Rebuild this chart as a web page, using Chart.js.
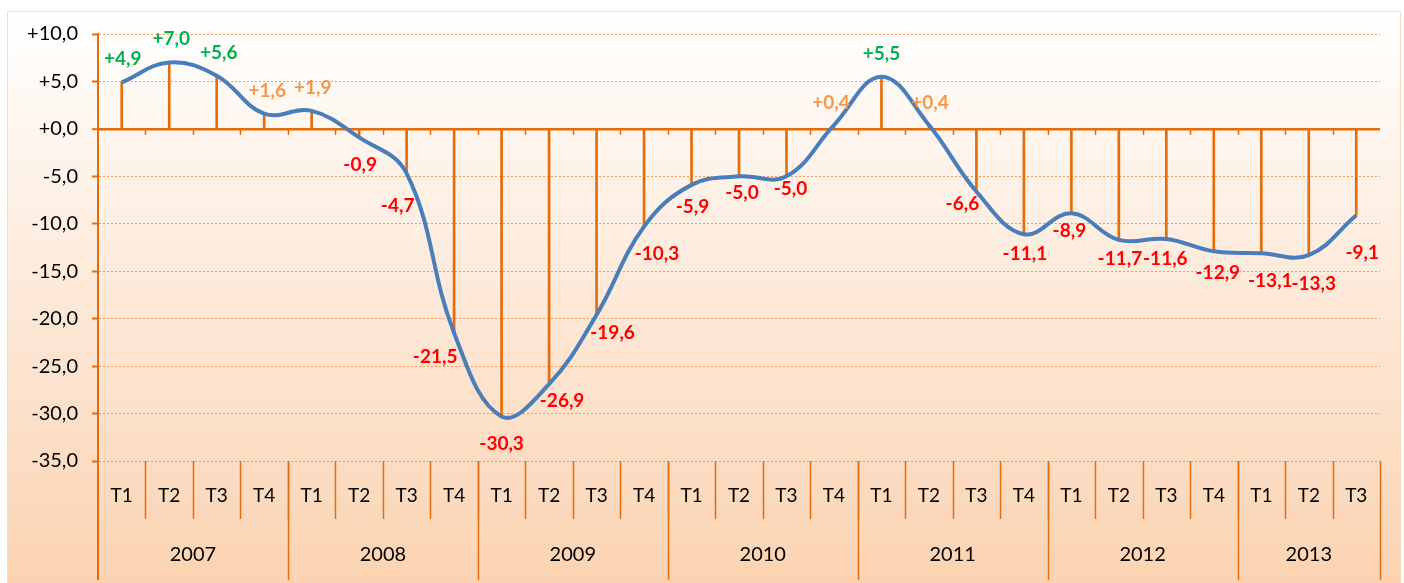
<!DOCTYPE html>
<html>
<head>
<meta charset="utf-8">
<script src="https://cdn.jsdelivr.net/npm/chart.js@4.4.0/dist/chart.umd.min.js"></script>
<style>
  html, body { margin: 0; padding: 0; background: #fff; }
  #wrap { width: 1404px; height: 583px; }
</style>
</head>
<body>
<div id="wrap"><canvas id="chartTrim" width="1404" height="583"></canvas></div>
<script>
// data
var years = ['2007', '2008', '2009', '2010', '2011', '2012', '2013'];
var quartersPerYear = [4, 4, 4, 4, 4, 4, 3];
var quarters = ['T1','T2','T3','T4', 'T1','T2','T3','T4', 'T1','T2','T3','T4',
                'T1','T2','T3','T4', 'T1','T2','T3','T4', 'T1','T2','T3','T4',
                'T1','T2','T3'];
var values = [4.9, 7.0, 5.6, 1.6,
              1.9, -0.9, -4.7, -21.5,
              -30.3, -26.9, -19.6, -10.3,
              -5.9, -5.0, -5.0, 0.4,
              5.5, 0.4, -6.6, -11.1,
              -8.9, -11.7, -11.6, -12.9,
              -13.1, -13.3, -9.1];
var valueLabels = ['+4,9','+7,0','+5,6','+1,6',
                   '+1,9','-0,9','-4,7','-21,5',
                   '-30,3','-26,9','-19,6','-10,3',
                   '-5,9','-5,0','-5,0','+0,4',
                   '+5,5','+0,4','-6,6','-11,1',
                   '-8,9','-11,7','-11,6','-12,9',
                   '-13,1','-13,3','-9,1'];
var yTickLabels = ['+10,0','+5,0','+0,0','-5,0','-10,0','-15,0','-20,0','-25,0','-30,0','-35,0'];

// where each label sits relative to its point (px)
var labelOffsets = [[1,-24],[2,-24],[2,-23],[3,-23],
                    [1,-23],[1,27],[-9,32],[-19,24],
                    [0,27],[13,17],[16,18],[13,27],
                    [1,22],[3,17],[4,13],[-3,-22],
                    [0,-23],[1,-22],[-14,12],[1,20],
                    [-2,18],[1,19],[-1,20],[4,22],
                    [9,28],[5,29],[6,38]];

var ORANGE = '#e46c0a';
var FONT = 'Lato, "Open Sans", sans-serif';

function labelColor(v) {
  if (v >= 2) return '#00b050';
  if (v >= 0) return '#f79646';
  return '#ff0000';
}

var framePlugin = {
  id: 'frame',
  beforeDraw: function(chart) {
    var ctx = chart.ctx;
    ctx.save();
    var g = ctx.createLinearGradient(0, 11, 0, 583);
    g.addColorStop(0, '#ffffff');
    g.addColorStop(1, '#fbd3b2');
    ctx.fillStyle = g;
    ctx.fillRect(7, 11, 1393, 572);
    ctx.strokeStyle = '#fbd9bd';
    ctx.lineWidth = 1;
    ctx.strokeRect(7.5, 11.5, 1393, 575);
    ctx.restore();
  },
  afterDatasetsDraw: function(chart) {
    var ctx = chart.ctx;
    var xs = chart.scales.x, ys = chart.scales.y;
    var area = chart.chartArea;
    var step = xs.getPixelForValue(1) - xs.getPixelForValue(0);
    var y0 = ys.getPixelForValue(0);
    var top = area.bottom, mid = top + 58, bot = top + 119;
    ctx.save();
    ctx.strokeStyle = ORANGE;
    // small ticks on the zero line
    ctx.lineWidth = 1.5;
    for (var i = 1; i < quarters.length; i++) {
      var xb = Math.round(xs.getPixelForValue(i) - step / 2) + 0.5;
      ctx.beginPath(); ctx.moveTo(xb, y0); ctx.lineTo(xb, y0 + 6); ctx.stroke();
    }
    // quarter separators
    for (i = 1; i < quarters.length; i++) {
      var xq = Math.round(xs.getPixelForValue(i) - step / 2) + 0.5;
      ctx.beginPath(); ctx.moveTo(xq, top); ctx.lineTo(xq, mid); ctx.stroke();
    }
    // left axis down to the bottom
    ctx.lineWidth = 2;
    ctx.beginPath(); ctx.moveTo(area.left, area.top); ctx.lineTo(area.left, bot); ctx.stroke();
    // years
    var start = 0;
    ctx.fillStyle = '#000';
    ctx.font = '20px ' + FONT;
    ctx.textAlign = 'center';
    ctx.textBaseline = 'middle';
    for (var k = 0; k < years.length; k++) {
      var x0 = xs.getPixelForValue(start) - step / 2;
      var x1 = xs.getPixelForValue(start + quartersPerYear[k] - 1) + step / 2;
      ctx.lineWidth = 1.5;
      ctx.beginPath(); ctx.moveTo(Math.round(x1) + 0.5, top); ctx.lineTo(Math.round(x1) + 0.5, bot); ctx.stroke();
      ctx.fillText(years[k], (x0 + x1) / 2, top + 94);
      start += quartersPerYear[k];
    }
    // value labels
    var meta = chart.getDatasetMeta(1);
    ctx.font = 'bold 19px ' + FONT;
    meta.data.forEach(function(pt, j) {
      ctx.fillStyle = labelColor(values[j]);
      ctx.fillText(valueLabels[j], pt.x + labelOffsets[j][0], pt.y + labelOffsets[j][1]);
    });
    ctx.restore();
  }
};

var chartCanvas = document.getElementById('chartTrim').getContext('2d');
new Chart(chartCanvas, {
  type: 'bar',
  data: {
    labels: quarters,
    datasets: [
      {
        type: 'bar',
        data: values,
        backgroundColor: ORANGE,
        barThickness: 2,
        order: 2
      },
      {
        type: 'line',
        data: values,
        borderColor: '#4a7ebb',
        borderWidth: 4,
        pointRadius: 0,
        tension: 0.4,
        fill: false,
        order: 1
      }
    ]
  },
  options: {
    responsive: false,
    animation: false,
    devicePixelRatio: 1,
    layout: { padding: { top: 34, right: 24, bottom: 3, left: 0 } },
    plugins: { legend: { display: false }, tooltip: { enabled: false } },
    scales: {
      x: {
        grid: { display: false, drawTicks: false },
        border: { display: false },
        ticks: { color: '#000', font: { family: FONT, size: 19 }, padding: 23, autoSkip: false, maxRotation: 0 },
        afterFit: function(s) { s.height = 119; }
      },
      y: {
        min: -35,
        max: 10,
        ticks: {
          stepSize: 5,
          padding: 14,
          color: '#000',
          font: { family: FONT, size: 20 },
          callback: function(v) { return yTickLabels[Math.round((10 - v) / 5)]; }
        },
        grid: {
          color: function(c) { return c.tick && c.tick.value === 0 ? ORANGE : '#f39a55'; },
          lineWidth: function(c) { return c.tick && c.tick.value === 0 ? 2.5 : 1; },
          tickLength: 6,
          tickColor: ORANGE,
          tickWidth: 2,
          tickBorderDash: []
        },
        border: {
          color: ORANGE,
          width: 2,
          dash: function(c) { return c.tick && c.tick.value === 0 ? [] : [2, 2]; }
        },
        afterFit: function(s) { s.width = 98; }
      }
    }
  },
  plugins: [framePlugin]
});
</script>
</body>
</html>
